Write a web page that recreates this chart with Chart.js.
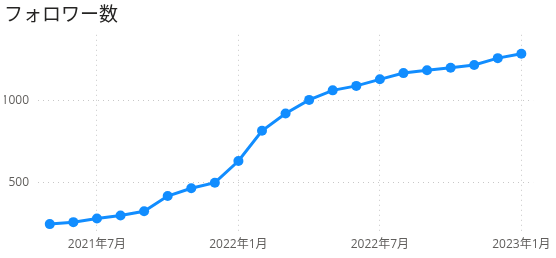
<!DOCTYPE html>
<html><head><meta charset="utf-8">
<script src="https://cdn.jsdelivr.net/npm/chart.js@4/dist/chart.umd.min.js"></script>
<style>html,body{margin:0;padding:0;background:#fff}#wrap{width:556px;height:258px;position:relative}</style>
</head><body><div id="wrap"><canvas id="c" width="556" height="258"></canvas></div>
<script>
const titleText = 'フォロワー数';
const years  = [2021,2021,2021,2021,2021,2021,2021,2021,2022,2022,2022,2022,2022,2022,2022,2022,2022,2022,2022,2022,2023];
const months = [5,6,7,8,9,10,11,12,1,2,3,4,5,6,7,8,9,10,11,12,1];
const categories = months.map((m,i)=>years[i]+'年'+m+'月');
const followers = [248,260,282,300,326,419,466,500,632,816,921,1004,1062,1089,1129,1167,1184,1200,1216,1258,1285];
const yTicks = [500,1000];
const shownMonths = [1,7];

const fontFam = "'Open Sans','Noto Sans CJK JP',sans-serif";
const isShown = i => shownMonths.includes(months[i]);

new Chart(document.getElementById('c'), {
  type: 'line',
  data: { labels: categories, datasets: [{
    data: followers, borderColor:'#118DFF', backgroundColor:'#118DFF',
    borderWidth:3, pointRadius:5, pointHoverRadius:5, pointBorderWidth:0, tension:0
  }]},
  options: {
    responsive:false, animation:false,
    layout:{padding:{left:4,right:21,top:0,bottom:0}},
    plugins:{
      legend:{display:false}, tooltip:{enabled:false},
      title:{display:true,text:titleText,align:'start',color:'#252423',
        font:{family:"'Noto Sans CJK JP',sans-serif",size:19,weight:'normal',lineHeight:1.2},
        padding:{top:2,bottom:10}}
    },
    scales:{
      x:{ offset:true, border:{display:false,dash:[1,4]},
        afterFit(s){s.height=26;},
        grid:{drawTicks:false, color:(ctx)=> (ctx.index!==undefined && isShown(ctx.index)) ? '#c8c8c8' : 'rgba(0,0,0,0)', lineWidth:1},
        ticks:{autoSkip:false,maxRotation:0,padding:5,color:'#605E5C',font:{family:fontFam,size:12},
          callback:function(v,i){return isShown(i)?categories[i]:'';}}
      },
      y:{ min:200, max:1400, border:{display:false,dash:[1,4]},
        afterFit(s){s.width=34;},
        afterBuildTicks(s){s.ticks=yTicks.map(v=>({value:v}));},
        grid:{drawTicks:false,color:'#c8c8c8',lineWidth:1},
        ticks:{padding:9,color:'#605E5C',font:{family:fontFam,size:12},callback:v=>String(v)}
      }
    }
  }
});
</script></body></html>
